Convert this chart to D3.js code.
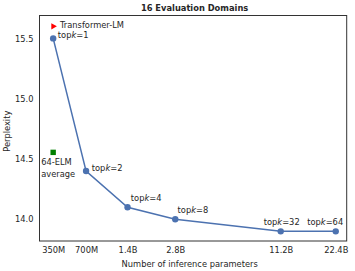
<!DOCTYPE html>
<html>
<head>
<meta charset="utf-8">
<script src="https://cdn.jsdelivr.net/npm/d3@7"></script>
<style>
  body { margin: 0; background: #fff; }
  text { font-family: "DejaVu Sans", sans-serif; fill: #262626; }
</style>
</head>
<body>
<div id="main"></div>
<script>
const ctx = {
    w: 355,
    h: 271,
    left: 39.5,
    right: 346.7,
    top: 15.5,
    bottom: 241,
    fs: 8.3,
};

// data
const topk = [1, 2, 4, 8, 32, 64];
const paramLabels = ["350M", "700M", "1.4B", "2.8B", "11.2B", "22.4B"];
const perplexity = [15.50, 14.40, 14.10, 14.00, 13.90, 13.90];
const transformerLM = { topk: 1, ppl: 15.60, label: "Transformer-LM" };
const elmAverage = { topk: 1, ppl: 14.555, label: ["64-ELM", "average"] };
const yTicks = [14.0, 14.5, 15.0, 15.5];

// label placement (layout only)
const labelPos = [
    { dx: 4.7, dy: -0.4, anchor: "start" },
    { dx: 5.7, dy: -0.3, anchor: "start" },
    { dx: 3.3, dy: -6, anchor: "start" },
    { dx: 2.3, dy: -6.3, anchor: "start" },
    { dx: 1, dy: -6.3, anchor: "middle" },
    { dx: -28.5, dy: -6.3, anchor: "start" },
];

function createViz() {
    let svg = d3.select("#main").append("svg")
        .attr("width", ctx.w)
        .attr("height", ctx.h);

    // x positions follow log(topk + 1)
    let x = d3.scaleLog().domain([1.69, 74.4]).range([ctx.left, ctx.right]);
    let y = d3.scaleLinear().domain([13.82, 15.69]).range([ctx.bottom, ctx.top]);
    const xp = k => x(k + 1);

    // axes
    let xAxis = d3.axisBottom(x)
        .tickValues(topk.map(k => k + 1))
        .tickFormat((d, i) => paramLabels[i])
        .tickSize(0).tickPadding(6.3);
    let gx = svg.append("g")
        .attr("transform", `translate(0,${ctx.bottom})`)
        .call(xAxis);
    gx.select(".domain").remove();
    gx.selectAll("text").attr("font-size", ctx.fs).attr("font-family", null);

    let yAxis = d3.axisLeft(y)
        .tickValues(yTicks)
        .tickFormat(d3.format(".1f"))
        .tickSize(0).tickPadding(6);
    let gy = svg.append("g")
        .attr("transform", `translate(${ctx.left},0)`)
        .call(yAxis);
    gy.select(".domain").remove();
    gy.selectAll("text").attr("font-size", ctx.fs).attr("font-family", null);

    // frame
    svg.append("rect")
        .attr("x", ctx.left).attr("y", ctx.top)
        .attr("width", ctx.right - ctx.left)
        .attr("height", ctx.bottom - ctx.top)
        .attr("fill", "none")
        .attr("stroke", "#333")
        .attr("stroke-width", 1);

    // main line
    let pts = topk.map((k, i) => ({ k: k, v: perplexity[i], i: i }));
    svg.append("path")
        .datum(pts)
        .attr("fill", "none")
        .attr("stroke", "#4c72b0")
        .attr("stroke-width", 1.5)
        .attr("d", d3.line().x(d => xp(d.k)).y(d => y(d.v)));

    svg.selectAll("circle.pt")
        .data(pts)
        .enter().append("circle")
        .attr("class", "pt")
        .attr("cx", d => xp(d.k))
        .attr("cy", d => y(d.v))
        .attr("r", 3.2)
        .attr("fill", "#4c72b0");

    // topk labels
    let lab = svg.selectAll("text.topk")
        .data(pts)
        .enter().append("text")
        .attr("class", "topk")
        .attr("font-size", ctx.fs)
        .attr("x", d => xp(d.k) + labelPos[d.i].dx)
        .attr("y", d => y(d.v) + labelPos[d.i].dy)
        .attr("text-anchor", d => labelPos[d.i].anchor);
    lab.append("tspan").text("top");
    lab.append("tspan").attr("font-style", "italic").text("k");
    lab.append("tspan").text(d => "=" + d.k);

    // Transformer-LM marker
    let tx = xp(transformerLM.topk), ty = y(transformerLM.ppl);
    svg.append("path")
        .attr("d", d3.symbol().type(d3.symbolTriangle).size(18)())
        .attr("transform", `translate(${tx},${ty}) rotate(90)`)
        .attr("fill", "#ff0000");
    svg.append("text")
        .attr("font-size", ctx.fs)
        .attr("x", tx + 6.8)
        .attr("y", ty + 1.3)
        .text(transformerLM.label);

    // 64-ELM average marker
    let ex = xp(elmAverage.topk), ey = y(elmAverage.ppl);
    svg.append("rect")
        .attr("x", ex - 2.7).attr("y", ey - 2.7)
        .attr("width", 5.4).attr("height", 5.4)
        .attr("fill", "#008000");
    svg.append("text")
        .attr("font-size", ctx.fs)
        .selectAll("tspan")
        .data(elmAverage.label)
        .enter().append("tspan")
        .attr("x", ex - 12)
        .attr("y", (d, i) => ey + 13 + i * 11.3)
        .text(d => d);

    // titles
    svg.append("text")
        .attr("x", (ctx.left + ctx.right) / 2 + 1.5)
        .attr("y", 11)
        .attr("text-anchor", "middle")
        .attr("font-size", ctx.fs)
        .attr("font-weight", "bold")
        .text("16 Evaluation Domains");
    svg.append("text")
        .attr("x", 189.7)
        .attr("y", 267)
        .attr("text-anchor", "middle")
        .attr("font-size", ctx.fs)
        .text("Number of inference parameters");
    svg.append("text")
        .attr("transform", `translate(9.5,${(ctx.top + ctx.bottom) / 2 + 3}) rotate(-90)`)
        .attr("text-anchor", "middle")
        .attr("font-size", ctx.fs)
        .text("Perplexity");
}

createViz();
</script>
</body>
</html>
